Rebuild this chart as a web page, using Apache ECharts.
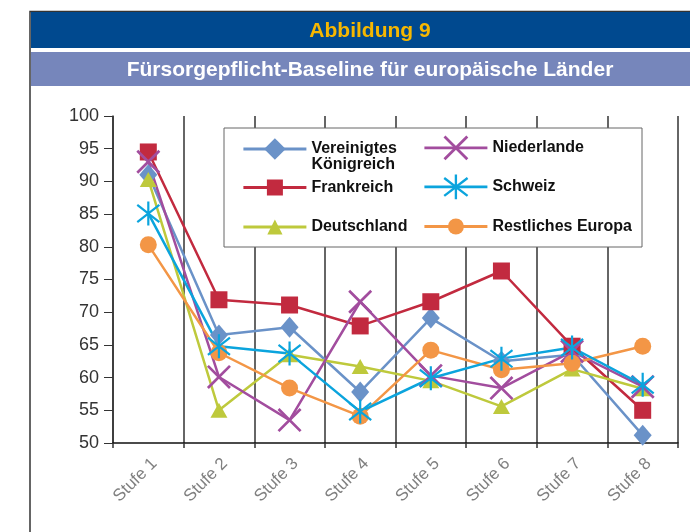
<!DOCTYPE html>
<html>
<head>
<meta charset="utf-8">
<script src="https://cdn.jsdelivr.net/npm/echarts@6/dist/echarts.min.js"></script>
<style>
  html, body { margin: 0; padding: 0; background: #fff; }
  #chart { width: 690px; height: 532px; }
</style>
</head>
<body>
<div id="chart"></div>
<script>
const categories = ['Stufe 1', 'Stufe 2', 'Stufe 3', 'Stufe 4', 'Stufe 5', 'Stufe 6', 'Stufe 7', 'Stufe 8']
const ukValues = [91.0, 66.5, 67.7, 57.8, 69.1, 62.5, 63.5, 51.2]
const frValues = [94.5, 71.9, 71.1, 67.9, 71.6, 76.3, 64.8, 55.0]
const deValues = [90.3, 55.0, 63.5, 61.7, 59.5, 55.6, 61.3, 58.3]
const nlValues = [93.0, 60.1, 53.5, 71.6, 60.3, 58.4, 64.0, 58.6]
const chValues = [85.1, 64.8, 63.7, 54.8, 59.9, 62.9, 64.6, 58.9]
const euValues = [80.3, 63.8, 58.4, 54.1, 64.2, 61.2, 62.2, 64.8]
const yMin = 50
const yMax = 100
const yStep = 5

const font = '"Liberation Sans", Arial, sans-serif'

// rotated bar as svg sub path, used for the x and star markers
function bar(len, w, deg) {
  const a = deg * Math.PI / 180
  const c = Math.cos(a)
  const s = Math.sin(a)
  const pts = [[-len / 2, -w / 2], [len / 2, -w / 2], [len / 2, w / 2], [-len / 2, w / 2]]
    .map(([x, y]) => [12 + x * c - y * s, 12 + x * s + y * c])
  return 'M' + pts.map(p => p[0].toFixed(2) + ',' + p[1].toFixed(2)).join(' L') + ' Z '
}
const crossSymbol = 'path://' + bar(30, 2.6, 45) + bar(30, 2.6, -45)
const starSymbol = 'path://' + bar(24, 2.2, 90) + bar(28, 2.2, 38) + bar(28, 2.2, -38)

const series = [
  { name: 'Vereinigtes Königreich', data: ukValues, color: '#6a92c8', symbol: 'diamond', symbolSize: [18, 21] },
  { name: 'Frankreich', data: frValues, color: '#c22a3f', symbol: 'rect', symbolSize: 17 },
  { name: 'Deutschland', data: deValues, color: '#bec93c', symbol: 'triangle', symbolSize: [17, 15] },
  { name: 'Niederlande', data: nlValues, color: '#a24d9e', symbol: crossSymbol, symbolSize: 24 },
  { name: 'Restliches Europa', data: euValues, color: '#f39646', symbol: 'circle', symbolSize: 17 },
  { name: 'Schweiz', data: chValues, color: '#0ba4dd', symbol: starSymbol, symbolSize: 24 },
].map(s => ({
  name: s.name,
  type: 'line',
  data: s.data,
  color: s.color,
  symbol: s.symbol,
  symbolSize: s.symbolSize,
  symbolKeepAspect: true,
  showAllSymbol: true,
  lineStyle: { width: 2.5 },
  emphasis: { disabled: true },
}))

// one legend per entry so they sit in the two columns of the box
// cy = centre of the icon, h = icon height
const legendItems = [
  { name: 'Vereinigtes Königreich', left: 242, cy: 149, h: 27 },
  { name: 'Frankreich', left: 242, cy: 189.5, h: 20 },
  { name: 'Deutschland', left: 242, cy: 228.5, h: 19 },
  { name: 'Niederlande', left: 423, cy: 151, h: 31 },
  { name: 'Schweiz', left: 423, cy: 190, h: 31 },
  { name: 'Restliches Europa', left: 423, cy: 228.5, h: 20 },
]
const legends = legendItems.map(it => {
  const twoLine = it.name === 'Vereinigtes Königreich'
  return {
    data: [it.name],
    left: it.left,
    top: twoLine ? it.cy - 24 : it.cy - it.h / 2,
    padding: 0,
    itemWidth: 63,
    itemHeight: it.h,
    itemGap: 0,
    z: 10,
    selectedMode: false,
    lineStyle: { width: 2.8 },
    // blank first line keeps "Vereinigtes" level with the icon
    formatter: name => twoLine ? '\nVereinigtes\nKönigreich' : name,
    textStyle: {
      fontFamily: font,
      fontWeight: 'bold',
      fontSize: 16,
      color: '#111',
      lineHeight: 16,
    },
  }
})

const chart = echarts.init(document.getElementById('chart'))
chart.setOption({
  animation: false,
  textStyle: { fontFamily: font },
  graphic: [
    { type: 'rect', shape: { x: 30, y: 11.5, width: 670, height: 530 }, style: { fill: 'none', stroke: '#333', lineWidth: 1.5 }, z: 0 },
    { type: 'rect', shape: { x: 31, y: 12, width: 670, height: 36 }, style: { fill: '#00498f' }, z: 0 },
    { type: 'rect', shape: { x: 31, y: 52, width: 670, height: 34 }, style: { fill: '#7686bb' }, z: 0 },
    {
      type: 'text', x: 370, y: 31, z: 1,
      style: { text: 'Abbildung 9', fill: '#f6b700', font: 'bold 21px ' + font, textAlign: 'center', textVerticalAlign: 'middle' },
    },
    {
      type: 'text', x: 370, y: 70, z: 1,
      style: { text: 'Fürsorgepflicht-Baseline für europäische Länder', fill: '#fff', font: 'bold 21px ' + font, textAlign: 'center', textVerticalAlign: 'middle' },
    },
    { type: 'rect', shape: { x: 224, y: 128, width: 418, height: 119 }, style: { fill: '#fff', stroke: '#666', lineWidth: 1 }, z: 3 },
  ],
  legend: legends,
  grid: { left: 113, right: 12, top: 116, bottom: 89 },
  xAxis: {
    type: 'category',
    data: categories,
    boundaryGap: true,
    axisLine: { lineStyle: { color: '#111', width: 1.5 } },
    axisTick: { show: true, length: 5, lineStyle: { color: '#333', width: 1.5 } },
    splitLine: { show: true, lineStyle: { color: '#333', width: 1.5 } },
    axisLabel: { rotate: 45, interval: 0, color: '#808080', fontSize: 17, margin: 12, verticalAlign: 'top', fontFamily: font },
  },
  yAxis: {
    type: 'value',
    min: yMin,
    max: yMax,
    interval: yStep,
    axisLine: { show: true, lineStyle: { color: '#333', width: 1.5 } },
    axisTick: { show: true, length: 9, lineStyle: { color: '#333' } },
    splitLine: { show: false },
    axisLabel: { color: '#333', fontSize: 18, margin: 14, fontFamily: font },
  },
  series: series,
})
</script>
</body>
</html>
